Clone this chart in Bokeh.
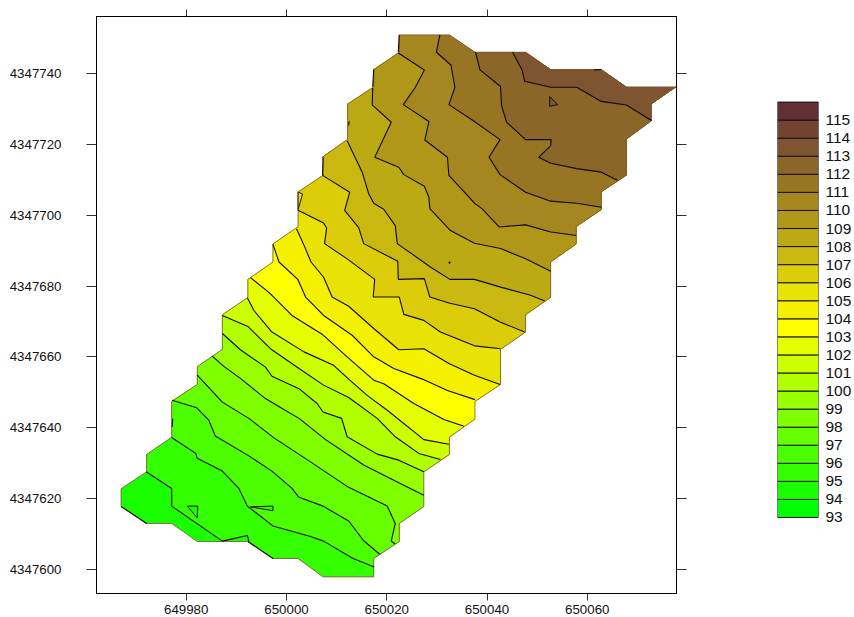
from bokeh.embed import file_html
from bokeh.layouts import row
from bokeh.models import FixedTicker, LinearAxis, NumeralTickFormatter, Range1d
from bokeh.plotting import figure
from bokeh.resources import INLINE

# All map coordinates are metres relative to these two origins.
EAST0 = 650000
NORTH0 = 4347600

X_TICKS = [649980, 650000, 650020, 650040, 650060]
Y_TICKS = [4347600, 4347620, 4347640, 4347660, 4347680, 4347700, 4347720, 4347740]
KEY_LEVELS = list(range(93, 117))
KEY_LABELS = list(range(93, 116))

BAND_COLORS = {
    93: "#00ff00", 94: "#19ff00", 95: "#33ff00", 96: "#4cff00", 97: "#66ff00",
    98: "#80ff00", 99: "#99ff00", 100: "#b2ff00", 101: "#ccff00", 102: "#e6ff00",
    103: "#ffff00", 104: "#f5f000", 105: "#e8e205", 106: "#dccc0a", 107: "#c9b810",
    108: "#bcaa15", 109: "#b19717", 110: "#a6861e", 111: "#987522", 112: "#8a6628",
    113: "#7e5530", 114: "#72442f", 115: "#622f33",
}

OUTLINE = [(22.5,151.0),(32.5,151.0),(37.6,146.1),(47.7,146.1),(52.7,141.2),(62.8,141.2),(67.8,136.3),(77.7,136.3),
           (72.8,131.5),(72.8,126.7),(67.8,121.5),(67.8,111.3),(62.8,106.6),(62.8,101.6),(57.8,96.8),(57.8,91.9),
           (52.7,86.8),(52.7,76.8),(47.7,71.9),(47.7,67.0),(42.7,62.1),(42.7,52.2),(37.6,47.4),(37.6,42.4),
           (32.5,37.3),(32.5,32.4),(27.4,27.5),(27.4,17.7),(22.5,12.9),(22.5,7.8),(17.4,3.0),(17.4,-2.2),
           (7.3,-2.2),(2.3,3.0),(-2.7,3.0),(-7.7,7.8),(-17.8,7.8),(-22.9,12.9),(-27.9,12.9),(-33.0,17.7),
           (-33.0,22.7),(-27.9,27.5),(-27.9,32.4),(-22.9,37.3),(-22.9,47.4),(-17.8,52.2),(-17.8,57.2),(-12.8,62.1),
           (-12.8,71.9),(-7.7,76.8),(-7.7,81.9),(-2.7,86.8),(-2.7,91.9),(2.3,96.8),(2.3,101.6),(2.3,106.6),
           (7.3,111.3),(7.3,116.6),(12.2,121.5),(12.2,131.5),(17.4,136.3),(17.4,141.2),(22.5,146.1)]

LINE_95 = [(-28.0,27.5),(-22.9,22.8),(-22.9,17.8),(-12.8,7.9),(-7.8,9.5),(-7.5,7.8)]
LINE_96 = [(-22.9,37.2),(-18.1,32.7),(-17.8,31.3),(-12.8,27.7),(-9.5,22.8),(-7.8,17.8),(-2.7,12.2),(4.8,9.2),(7.4,7.9),(13.3,3.0),(17.5,0.6)]
LINE_97 = [(-22.8,47.7),(-17.9,45.6),(-15.5,42.1),(-14.2,37.6),(-7.5,32.0),(-2.9,27.7),(1.1,22.8),(2.4,20.4),(7.3,17.8),(12.4,13.6),(15.4,8.0),(18.6,4.2)]
LINE_98 = [(-17.8,54.8),(-12.8,47.2),(-7.5,42.6),(-2.5,37.1),(4.8,30.3),(6.8,28.4),(12.4,23.1),(20.1,17.8),(21.7,12.9),(20.9,7.9),(21.7,7.1)]
LINE_99 = [(-14.8,60.2),(-12.5,57.3),(-9.2,53.9),(-4.2,48.2),(-1.2,45.7),(2.5,42.6),(7.8,36.6),(15.4,29.4),(22.4,24.4),(27.4,20.9)]
LINE_100 = [(-12.8,66.6),(-9.2,62.0),(-4.2,57.1),(-2.9,54.5),(2.5,51.0),(6.1,46.8),(7.3,44.4),(11.0,42.6),(12.1,37.4),(18.1,32.5),(22.4,30.8),(27.4,27.5)]
LINE_101 = [(-12.8,71.7),(-7.7,68.6),(-3.2,62.3),(2.5,56.7),(7.4,52.0),(12.4,48.5),(18.1,42.6),(21.7,37.4),(26.4,32.7),(30.7,31.0)]
LINE_102 = [(-7.8,76.7),(-6.5,73.1),(-2.9,67.0),(3.5,61.4),(9.4,57.6),(12.8,53.2),(16.1,49.1),(20.1,44.9),(27.4,36.6),(32.4,35.3)]
LINE_103 = [(-7.2,82.4),(-4.0,78.8),(-2.9,77.4),(1.1,71.7),(7.1,66.4),(12.1,60.0),(17.4,53.4),(19.4,52.4),(25.4,46.8),(31.4,42.3),(35.4,40.4)]
LINE_104 = [(-2.7,91.8),(-1.5,86.8),(2.3,81.8),(3.8,76.9),(7.4,71.7),(13.1,66.1),(17.4,60.0),(21.4,56.7),(27.1,53.7),(32.1,50.5),(37.6,47.9)]
LINE_105 = [(2.0,96.2),(3.5,91.5),(4.9,86.8),(7.4,82.5),(9.1,76.9),(12.4,74.3),(17.4,68.0),(22.4,62.0),(27.4,62.3),(32.4,58.1),(37.5,54.8),(42.6,52.2)]
LINE_106 = [(2.3,101.4),(7.4,97.8),(8.0,96.4),(7.6,92.0),(12.1,87.7),(17.6,81.9),(17.3,76.9),(22.5,76.9),(23.4,72.0),(27.4,70.3),(30.7,67.0),(37.5,63.1),(42.7,62.3)]
LINE_107 = [(7.2,111.3),(12.6,106.5),(11.6,101.4),(14.4,96.5),(15.4,92.0),(22.2,87.0),(22.3,81.9),(27.5,82.1),(28.6,76.9),(32.4,75.2),(37.5,73.6),(42.7,69.8),(47.5,67.0)]
LINE_108 = [(12.1,121.1),(15.1,112.2),(16.4,106.1),(17.4,103.4),(19.4,101.7),(21.7,97.1),(22.1,92.0),(28.7,85.4),(32.6,81.9),(37.5,81.9),(42.7,79.7),(48.7,77.4),(51.5,75.8)]
LINE_109 = [(17.2,136.0),(17.1,131.2),(20.9,126.3),(17.6,116.4),(22.4,113.6),(23.4,111.5),(27.5,108.2),(28.4,105.1),(28.6,101.9),(32.7,95.7),(37.5,92.1),(42.7,90.6),(47.7,87.7),(52.7,84.2)]
LINE_110 = [(22.3,145.9),(27.5,141.1),(25.7,136.2),(23.3,131.3),(28.4,126.5),(27.6,121.3),(32.1,116.4),(32.4,111.3),(37.6,103.3),(39.0,101.9),(42.4,96.7),(47.7,97.3),(52.7,95.3),(57.8,94.3)]
LINE_111 = [(30.6,151.0),(29.9,146.1),(32.8,142.5),(33.6,136.2),(32.4,131.3),(37.2,126.8),(42.6,121.4),(40.4,116.4),(42.6,111.5),(47.7,106.5),(52.7,104.0),(57.9,103.4),(62.8,102.3)]
LINE_112 = [(37.7,146.1),(38.6,141.1),(42.7,136.4),(42.9,131.0),(43.9,126.3),(47.7,121.4),(52.8,121.4),(52.7,119.7),(50.3,116.4),(52.7,114.7),(57.9,113.2),(62.8,112.2),(66.0,109.9)]
LINE_113 = [(45.1,146.1),(47.0,141.1),(47.5,137.9),(52.7,136.2),(57.9,136.2),(62.8,132.2),(67.8,131.2),(72.8,126.8)]

CONTOURS = {95: LINE_95, 96: LINE_96, 97: LINE_97, 98: LINE_98, 99: LINE_99, 100: LINE_100, 101: LINE_101,
            102: LINE_102, 103: LINE_103, 104: LINE_104, 105: LINE_105, 106: LINE_106, 107: LINE_107,
            108: LINE_108, 109: LINE_109, 110: LINE_110, 111: LINE_111, 112: LINE_112, 113: LINE_113}

# Small closed contours: (band filled inside, ring)
POCKETS = [(94, [(-19.8,17.8),(-17.7,17.8),(-17.8,14.5)]),
           (95, [(-7.2,17.6),(-2.7,17.8),(-2.7,16.5)]),
           (113, [(52.5,133.6),(54.1,131.3),(52.5,130.8)]),
           (108, [(32.4,86.8),(32.7,86.8),(32.5,86.3)]),
           (105, [(2.3,106.6),(3.2,106.0),(2.3,101.6)])]

# Contour pieces that run along the edge of the surveyed area.
EDGE_PIECES = [[(-33.0,17.7),(-27.9,12.9)], [(-7.7,7.8),(-2.7,3.0)], [(-22.7,42.5),(-22.8,40.2)],
               [(12.5,126.6),(12.4,125.4)], [(17.4,141.2),(17.2,136.3)], [(22.5,151.0),(22.3,146.1)],
               [(7.3,116.6),(7.2,111.3)], [(61.4,141.1),(62.8,141.2)]]


def nearest_segment(pt, ring):
    best, best_d = 0, 1e18
    n = len(ring)
    for i in range(n):
        ax, ay = ring[i]
        bx, by = ring[(i + 1) % n]
        dx, dy = bx - ax, by - ay
        t = ((pt[0] - ax) * dx + (pt[1] - ay) * dy) / ((dx * dx + dy * dy) or 1)
        t = max(0, min(1, t))
        d = (ax + t * dx - pt[0]) ** 2 + (ay + t * dy - pt[1]) ** 2
        if d < best_d - 1e-9:
            best, best_d = i, d
    return best


def upper_side(line, ring):
    """The part of the outline north-east of a contour, closed along the edge."""
    start = nearest_segment(line[0], ring)
    end = nearest_segment(line[-1], ring)
    n = len(ring)
    pts = list(line)
    i = end
    stop = (start + 1) % n
    while True:
        pts.append(ring[i])
        if i == stop:
            break
        i = (i - 1) % n
    return pts


def ex(pts):
    return [EAST0 + q[0] for q in pts]


def ny(pts):
    return [NORTH0 + q[1] for q in pts]


FONT = "Liberation Sans"

p = figure(width=748, height=617, output_backend="svg", toolbar_location=None,
           x_range=Range1d(649962.1, 650077.8), y_range=Range1d(4347593.1, 4347756.2),
           x_axis_location=None, y_axis_location=None,
           min_border_left=96, min_border_right=72, min_border_top=16, min_border_bottom=24)
p.grid.visible = False
p.background_fill_color = "white"
p.outline_line_color = "black"
p.outline_line_width = 1


def add_axis(where, ticks, labelled, length, standoff):
    ax = LinearAxis(ticker=FixedTicker(ticks=ticks), formatter=NumeralTickFormatter(format="0"))
    ax.major_tick_out = length
    ax.major_tick_in = 0
    ax.minor_tick_line_color = None
    ax.major_tick_line_color = "#333333"
    ax.axis_line_color = "black"
    ax.major_label_standoff = standoff
    ax.major_label_text_font = FONT
    ax.major_label_text_font_size = "13.3px" if labelled else "0px"
    ax.major_label_text_color = "#111111" if labelled else None
    p.add_layout(ax, where)


add_axis("left", Y_TICKS, True, 10, 25)
add_axis("below", X_TICKS, True, 7, 4)
add_axis("right", Y_TICKS, False, 10, 0)
add_axis("above", X_TICKS, False, 7, 0)

# Filled bands, lowest first, each one painted over the previous.
p.patch(ex(OUTLINE), ny(OUTLINE), fill_color=BAND_COLORS[94], line_color=None)
levels = sorted(CONTOURS)
p.patches([ex(upper_side(CONTOURS[k], OUTLINE)) for k in levels],
          [ny(upper_side(CONTOURS[k], OUTLINE)) for k in levels],
          fill_color=[BAND_COLORS[k] for k in levels], line_color=None)
p.patches([ex(r) for _, r in POCKETS], [ny(r) for _, r in POCKETS],
          fill_color=[BAND_COLORS[b] for b, _ in POCKETS], line_color="#111111", line_width=1)

ring_closed = OUTLINE + OUTLINE[:1]
p.line(ex(ring_closed), ny(ring_closed), line_color="#7a5230", line_width=0.8)
p.multi_line([ex(CONTOURS[k]) for k in levels], [ny(CONTOURS[k]) for k in levels],
             line_color="#0a0a0a", line_width=1.1)
p.multi_line([ex(s) for s in EDGE_PIECES], [ny(s) for s in EDGE_PIECES],
             line_color="#0a0a0a", line_width=1.1)

# Same top and bottom borders as the map, since a row lines up its frames.
key = figure(width=106, height=617, output_backend="svg", toolbar_location=None,
             x_range=Range1d(0, 1), y_range=Range1d(88.79, 120.74),
             x_axis_location=None, y_axis_location=None,
             min_border_left=29, min_border_right=32, min_border_top=16, min_border_bottom=24)
key.grid.visible = False
key.outline_line_color = None
key.quad(left=0, right=1, bottom=KEY_LEVELS[:-1], top=KEY_LEVELS[1:],
         fill_color=[BAND_COLORS[k] for k in KEY_LEVELS[:-1]], line_color="#111111", line_width=1)
kax = LinearAxis(ticker=FixedTicker(ticks=KEY_LABELS))
kax.major_tick_line_color = None
kax.minor_tick_line_color = None
kax.axis_line_color = None
kax.major_tick_out = 0
kax.major_tick_in = 0
kax.major_label_standoff = 7
kax.major_label_text_font = FONT
kax.major_label_text_font_size = "15.5px"
kax.major_label_text_color = "#111111"
key.add_layout(kax, "right")

layout = row(p, key, spacing=0)
open("out.html", "w").write(file_html(layout, INLINE, title="contour map"))
